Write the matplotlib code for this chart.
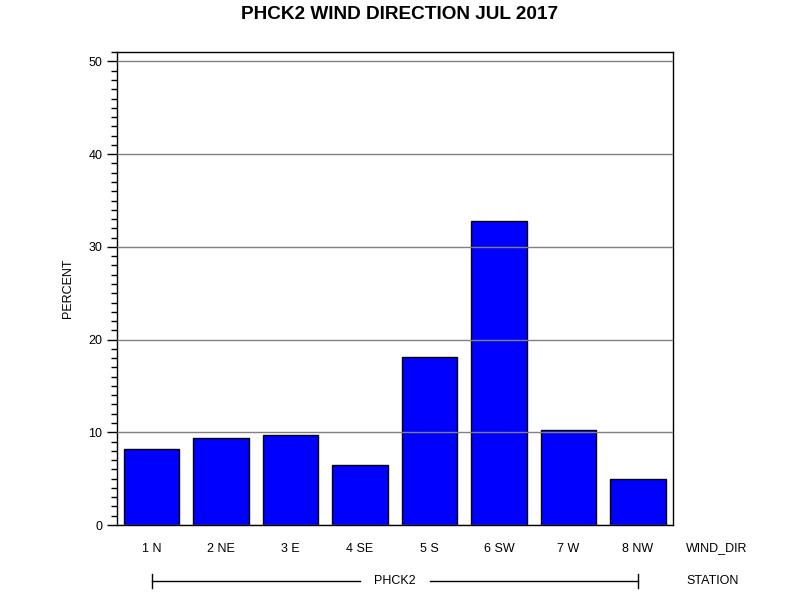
import numpy as np
import matplotlib
matplotlib.use('Agg')
import matplotlib.pyplot as plt
from matplotlib.ticker import MultipleLocator

# Données
directions = ['1 N', '2 NE', '3 E', '4 SE', '5 S', '6 SW', '7 W', '8 NW']
percent = [8.2, 9.4, 9.7, 6.5, 18.1, 32.8, 10.3, 5.0]
station = 'PHCK2'

plt.rcParams['font.family'] = ['Liberation Sans', 'DejaVu Sans']

fig = plt.figure(figsize=(8, 6), dpi=100)
ax = fig.add_axes([0.146, 0.125, 0.695, 0.788])

x = np.arange(len(directions))
ax.bar(x, percent, width=0.8, color='#0000ff', edgecolor='black', linewidth=1, zorder=2)

ax.set_xlim(-0.5, len(directions) - 0.5)
ax.set_ylim(0, 51)
ax.yaxis.set_major_locator(MultipleLocator(10))
ax.yaxis.set_minor_locator(MultipleLocator(1))
ax.grid(axis='y', color='#808080', linewidth=1, zorder=3)
ax.set_axisbelow(False)

ax.set_xticks(x)
ax.set_xticklabels(directions, fontsize=9)
ax.tick_params(axis='x', length=0, pad=13)
ax.tick_params(axis='y', which='major', length=7, width=1, labelsize=9, direction='out')
ax.tick_params(axis='y', which='minor', length=4, width=1, direction='out')
for s in ax.spines.values():
    s.set_linewidth(1)

ax.set_ylabel('PERCENT', fontsize=9, labelpad=10)
fig.suptitle('PHCK2 WIND DIRECTION JUL 2017', fontsize=13.7, fontweight='bold', y=0.99)

# Étiquettes de niveau et ligne de station
fig.text(686 / 800, 1 - 548 / 600, 'WIND_DIR', fontsize=9, va='center', ha='left')
fig.text(686 / 800, 1 - 581 / 600, 'STATION', fontsize=9, va='center', ha='left')

trans = ax.get_xaxis_transform()
y_st = -(581 - 525) / (525 - 52)
ax.text((x[0] + x[-1]) / 2, y_st, station, transform=trans, fontsize=9,
        ha='center', va='center', clip_on=False)
ax.plot([x[0], 3.0], [y_st, y_st], color='black', lw=1, transform=trans, clip_on=False)
ax.plot([4.0, x[-1]], [y_st, y_st], color='black', lw=1, transform=trans, clip_on=False)
dy = 7 / (525 - 52)
for xe in (x[0], x[-1]):
    ax.plot([xe, xe], [y_st - dy, y_st + dy], color='black', lw=1, transform=trans, clip_on=False)

fig.savefig('out.png', dpi=100)
